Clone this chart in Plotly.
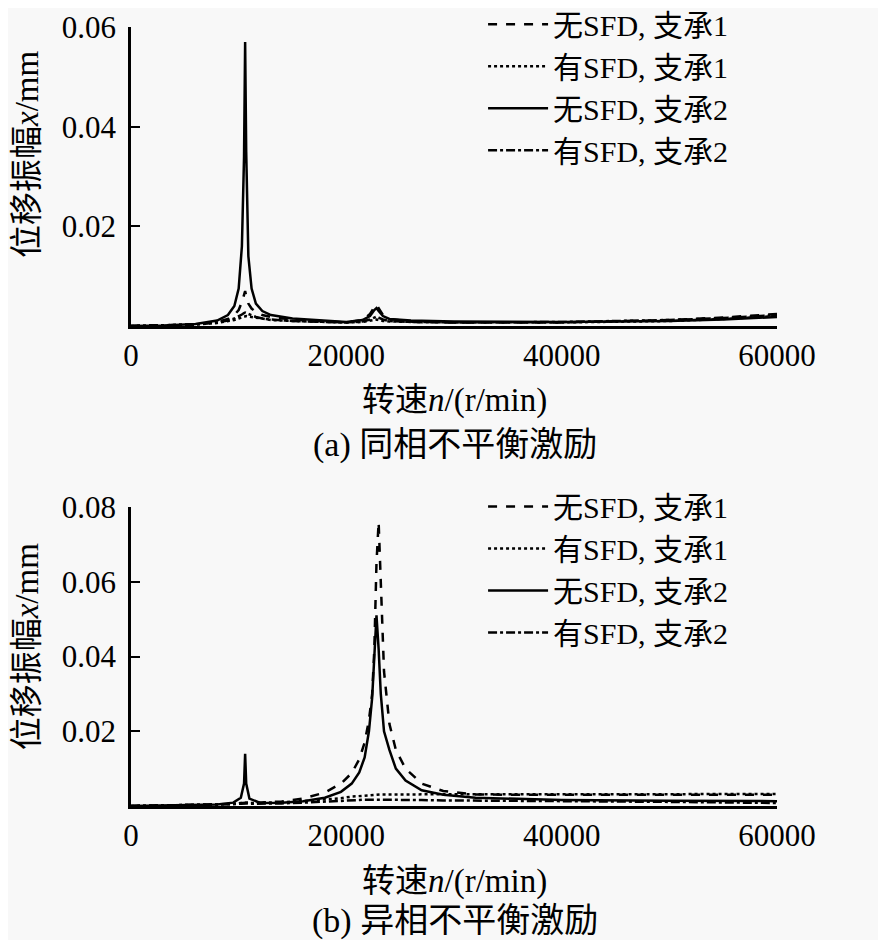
import plotly.graph_objects as go
from plotly.subplots import make_subplots

# (a) in-phase unbalance
rpm_a = [0, 3000, 6000, 8000, 9000, 9600, 10000, 10300, 10500, 10600, 10700, 10900,
         11200, 11600, 12200, 13000, 15000, 18000, 20000, 21500, 22200, 22600, 22800,
         23000, 23400, 24000, 26000, 30000, 40000, 50000, 55000, 60000]
a_noSFD_b1 = [0, 0.0001, 0.0003, 0.0008, 0.0014, 0.0022, 0.0032, 0.0048, 0.0062, 0.0070,
              0.0060, 0.0045, 0.0035, 0.0028, 0.0022, 0.0018, 0.0013, 0.0009, 0.0007,
              0.0012, 0.0024, 0.0038, 0.0043, 0.0036, 0.0022, 0.0014, 0.0009, 0.0007,
              0.0007, 0.0012, 0.0017, 0.0024]
a_SFD_b1 = [0, 0.0001, 0.0003, 0.0006, 0.0009, 0.0012, 0.0015, 0.0017, 0.0019, 0.0020,
            0.0020, 0.0019, 0.0018, 0.0016, 0.0014, 0.0012, 0.0010, 0.0008, 0.0007,
            0.0008, 0.0010, 0.0012, 0.0013, 0.0012, 0.0010, 0.0009, 0.0008, 0.0007,
            0.0007, 0.0010, 0.0014, 0.0020]
a_noSFD_b2 = [0, 0.0001, 0.0004, 0.0011, 0.0022, 0.0040, 0.0075, 0.0160, 0.0340, 0.0570,
              0.0350, 0.0140, 0.0075, 0.0045, 0.0030, 0.0022, 0.0015, 0.0011, 0.0008,
              0.0012, 0.0020, 0.0032, 0.0036, 0.0030, 0.0020, 0.0014, 0.0011, 0.0009,
              0.0008, 0.0010, 0.0013, 0.0018]
a_SFD_b2 = [0, 0.0001, 0.0003, 0.0007, 0.0011, 0.0015, 0.0019, 0.0023, 0.0026, 0.0027,
            0.0026, 0.0024, 0.0021, 0.0018, 0.0015, 0.0013, 0.0010, 0.0008, 0.0007,
            0.0009, 0.0013, 0.0017, 0.0019, 0.0017, 0.0013, 0.0010, 0.0008, 0.0007,
            0.0008, 0.0012, 0.0016, 0.0022]

# (b) anti-phase unbalance
rpm_b = [0, 3000, 6000, 8000, 9500, 10200, 10500, 10600, 10700, 11000, 12000, 14000,
         16000, 18000, 19500, 20500, 21200, 21700, 22100, 22400, 22600, 22800, 23000,
         23200, 23500, 24000, 24600, 25500, 27000, 29000, 32000, 36000, 40000, 50000, 60000]
b_noSFD_b1 = [0, 0.0001, 0.0002, 0.0004, 0.0006, 0.0008, 0.0009, 0.0010, 0.0009, 0.0008,
              0.0009, 0.0012, 0.0020, 0.0036, 0.0060, 0.0088, 0.0125, 0.0170, 0.0230,
              0.0300, 0.0420, 0.0650, 0.0760, 0.0600, 0.0360, 0.0220, 0.0150, 0.0100,
              0.0060, 0.0040, 0.0031, 0.0030, 0.0030, 0.0030, 0.0030]
b_SFD_b1 = [0, 0.0001, 0.0002, 0.0004, 0.0006, 0.0008, 0.0009, 0.0009, 0.0009, 0.0008,
            0.0008, 0.0010, 0.0013, 0.0017, 0.0021, 0.0025, 0.0027, 0.0028, 0.0029,
            0.0030, 0.0030, 0.0031, 0.0031, 0.0031, 0.0031, 0.0031, 0.0031, 0.0031,
            0.0031, 0.0031, 0.0031, 0.0031, 0.0031, 0.0032, 0.0032]
b_noSFD_b2 = [0, 0.0001, 0.0002, 0.0004, 0.0009, 0.0022, 0.0060, 0.0140, 0.0060, 0.0020,
              0.0008, 0.0009, 0.0013, 0.0022, 0.0038, 0.0060, 0.0090, 0.0130, 0.0200,
              0.0290, 0.0400, 0.0510, 0.0420, 0.0300, 0.0200, 0.0150, 0.0100, 0.0068,
              0.0042, 0.0030, 0.0022, 0.0018, 0.0016, 0.0014, 0.0013]
b_SFD_b2 = [0, 0.0001, 0.0002, 0.0003, 0.0005, 0.0006, 0.0007, 0.0007, 0.0007, 0.0006,
            0.0006, 0.0007, 0.0009, 0.0011, 0.0013, 0.0015, 0.0016, 0.0017, 0.0017,
            0.0018, 0.0018, 0.0018, 0.0018, 0.0018, 0.0018, 0.0017, 0.0017, 0.0016,
            0.0016, 0.0015, 0.0015, 0.0014, 0.0013, 0.0011, 0.0008]

names = ['无SFD, 支承1', '有SFD, 支承1', '无SFD, 支承2', '有SFD, 支承2']
dashes = ['dash', 'dot', 'solid', 'dashdot']

x_ticks = [0, 20000, 40000, 60000]
x_labels = ['0', '20000', '40000', '60000']
y_ticks_a = [0.02, 0.04, 0.06]
y_ticks_b = [0.02, 0.04, 0.06, 0.08]

FONT = 'Liberation Serif, Times New Roman, Noto Sans CJK SC'
FS = 31

fig = make_subplots(rows=2, cols=1)

for i, ys in enumerate([a_noSFD_b1, a_SFD_b1, a_noSFD_b2, a_SFD_b2]):
	fig.add_trace(go.Scatter(x=rpm_a, y=ys, mode='lines', name=names[i],
		line=dict(color='black', width=2.5, dash=dashes[i]), legend='legend'), row=1, col=1)
for i, ys in enumerate([b_noSFD_b1, b_SFD_b1, b_noSFD_b2, b_SFD_b2]):
	fig.add_trace(go.Scatter(x=rpm_b, y=ys, mode='lines', name=names[i],
		line=dict(color='black', width=2.5, dash=dashes[i]), legend='legend2'), row=2, col=1)

fig.update_xaxes(range=[0, 60000], tickvals=x_ticks, ticktext=x_labels, showline=True,
	linecolor='black', linewidth=2.5, ticks='', showgrid=False, zeroline=False,
	automargin=False, domain=[0, 1],
	tickfont=dict(family=FONT, size=FS, color='black'))
fig.update_yaxes(showline=True, linecolor='black', linewidth=2.5, ticks='inside',
	ticklen=9, tickwidth=2, tickcolor='black', showgrid=False, zeroline=False,
	automargin=False, tickfont=dict(family=FONT, size=FS, color='black'),
	ticklabelstandoff=6, ticklabeloverflow='allow')
fig.update_yaxes(range=[0, 0.06], tickvals=y_ticks_a, ticktext=[str(v) for v in y_ticks_a],
	domain=[0.6162, 1], row=1, col=1)
fig.update_yaxes(range=[0, 0.08], tickvals=y_ticks_b, ticktext=[str(v) for v in y_ticks_b],
	domain=[0, 0.3838], row=2, col=1)

leg = dict(font=dict(family=FONT, size=30, color='black'), bgcolor='rgba(0,0,0,0)',
	xanchor='left', yanchor='top', itemwidth=60, tracegroupgap=0)
# page body adds 8px, so margins are pulled in by that much
fig.update_layout(
	width=886, height=940,
	margin=dict(l=123, r=117, t=19, b=142, autoexpand=False),
	paper_bgcolor='#f8f8f8', plot_bgcolor='#f8f8f8',
	legend=dict(x=0.545, y=1.037, **leg),
	legend2=dict(x=0.545, y=0.418, **leg),
)

titles = [
	('位移振幅<i>x</i>/mm', -0.161, 0.837, -90, 33),
	('位移振幅<i>x</i>/mm', -0.161, 0.205, -90, 33),
	('转速<i>n</i>/(r/min)', 0.5015, 0.520, 0, 33),
	('(a) 同相不平衡激励', 0.5015, 0.4634, 0, 34),
	('转速<i>n</i>/(r/min)', 0.5015, -0.0963, 0, 33),
	('(b) 异相不平衡激励', 0.5015, -0.1476, 0, 34),
]
for text, x, y, ang, size in titles:
	fig.add_annotation(text=text, x=x, y=y, xref='paper', yref='paper', showarrow=False,
		textangle=ang, xanchor='center', yanchor='middle',
		font=dict(family=FONT, size=size, color='black'))

fig.write_html('out.html')
